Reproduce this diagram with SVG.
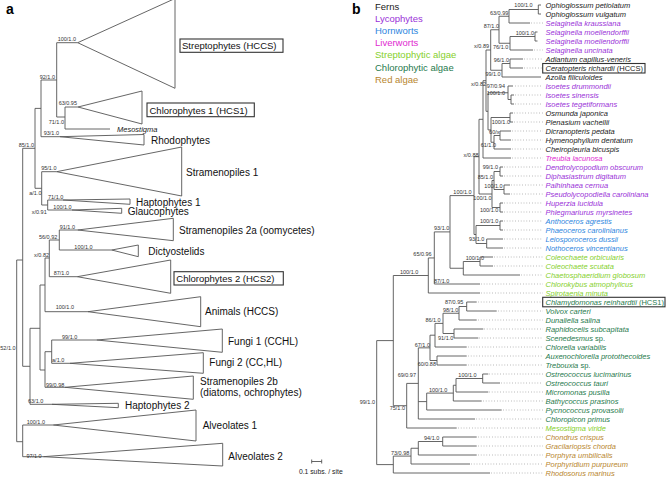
<svg xmlns="http://www.w3.org/2000/svg" width="667" height="478" viewBox="0 0 667 478">
<style>
.bg{fill:#fff}
.t{fill:none;stroke:#555;stroke-width:0.9}
.tri{fill:#fff;stroke:#555;stroke-width:0.9}
.dot{fill:none;stroke:#888;stroke-width:0.7;stroke-dasharray:0.8 2}
.bx{fill:none;stroke:#333;stroke-width:1.1}
.nl{font-family:"Liberation Sans",Arial,sans-serif;font-size:5.5px;fill:#333;text-anchor:end}
.cl{font-family:"Liberation Sans",Arial,sans-serif;font-size:10px;fill:#111}
.bl{font-family:"Liberation Sans",Arial,sans-serif;font-size:9.5px;fill:#111}
.pl{font-family:"Liberation Sans",Arial,sans-serif;font-size:14px;font-weight:bold;fill:#000}
.lg{font-family:"Liberation Sans",Arial,sans-serif;font-size:9.5px}
.sp{font-family:"Liberation Sans",Arial,sans-serif;font-size:7.5px;font-style:italic}
.n{font-style:normal}
.fe{fill:#1a1a1a}.ly{fill:#9a32d8}.ho{fill:#2e86de}.lv{fill:#e02bd0}.sa{fill:#86d02c}.ca{fill:#1f7a4d}.ra{fill:#b8862e}
</style>
<rect class="bg" x="0" y="0" width="667" height="478"/>
<text class="pl" x="6" y="14">a</text>
<text class="pl" x="352" y="14">b</text>

<g id="connectors-a">
<path class="t" d="M16.7 260V441.7M16.7 260H22.7M16.7 441.7H22.7
M22.7 148.3V366.3M22.7 148.3H35M22.7 366.3H30
M35 108.4V188.3M35 108.4H41M35 188.3H41.7
M41 80V136.7M41 80H56.7M41 136.7H60
M56.7 42.7V117M56.7 42.7H77.7M56.7 117H65
M65 107V129M65 107H78M65 129H110
M41.7 171.7V205M41.7 171.7H56.7M41.7 205H47.7
M47.7 200V210M47.7 200H63M47.7 210H72
M30 328.3V404.3M30 328.3H40M30 404.3H52
M40 285V370M40 285H45M40 370H45
M45 258V311.7M45 258H49.3M45 311.7H88
M49.3 240V276.7M49.3 240H59.3M49.3 276.7H77.3
M59.3 230V250M59.3 230H77.7M59.3 250H111.7
M45 351.7V387.3M45 351.7H51.7M45 387.3H65
M51.7 340V363.3M51.7 340H96.7M51.7 363.3H70
M22.7 425V456.7M22.7 425H53.3M22.7 456.7H43.3"/>
<path class="t" d="M311.7 461.5H321.7M311.7 459.5V463.5M321.7 459.5V463.5"/>
</g>

<g id="clade-streptophytes"><polygon class="tri" points="77.7,42.7 175,-1.5 175,88.3"/><rect class="bx" x="180" y="39" width="103" height="13.3"/><text class="bl" x="182" y="49.3">Streptophytes (HCCS)</text></g>
<g id="clade-chlorophytes1"><polygon class="tri" points="78,107 142,91 142,124"/><rect class="bx" x="147" y="103" width="107.3" height="13.7"/><text class="bl" x="149.5" y="113.5">Chlorophytes 1 (HCS1)</text></g>
<g id="leaf-mesostigma"><text class="sp fe" x="117" y="131.8">Mesostigma</text></g>
<g id="clade-rhodophytes"><polygon class="tri" points="60,136.7 144,134.5 144,145"/><text class="cl" x="151" y="143.7">Rhodophytes</text></g>
<g id="clade-stramenopiles1"><polygon class="tri" points="56.7,171.7 181.7,147 181.7,196"/><text class="cl" x="186" y="175.5">Stramenopiles 1</text></g>
<g id="clade-haptophytes1"><polygon class="tri" points="63,200 130,199 130,204.3"/><text class="cl" x="136" y="205.5">Haptophytes 1</text></g>
<g id="clade-glaucophytes"><polygon class="tri" points="72,210 121.7,208.3 121.7,213.3"/><text class="cl" x="127.7" y="215.2">Glaucophytes</text></g>
<g id="clade-stramenopiles2a"><polygon class="tri" points="77.7,230 173.3,218.3 173.3,240.7"/><text class="cl" x="179" y="234.3">Stramenopiles 2a (oomycetes)</text></g>
<g id="clade-dictyostelids"><polygon class="tri" points="111.7,250 138.3,245 138.3,256.7"/><text class="cl" x="148.3" y="254.5">Dictyostelids</text></g>
<g id="clade-chlorophytes2"><polygon class="tri" points="77.3,276.7 170.7,260 170.7,293.3"/><rect class="bx" x="174" y="271.7" width="109.3" height="13.3"/><text class="bl" x="176.3" y="281.8">Chlorophytes 2 (HCS2)</text></g>
<g id="clade-animals"><polygon class="tri" points="88,311.7 200.7,296.7 200.7,326.7"/><text class="cl" x="205" y="315.3">Animals (HCCS)</text></g>
<g id="clade-fungi1"><polygon class="tri" points="96.7,340 222.3,329 222.3,352.3"/><text class="cl" x="228" y="344.5">Fungi 1 (CCHL)</text></g>
<g id="clade-fungi2"><polygon class="tri" points="70,363.3 203.3,352.7 203.3,373.3"/><text class="cl" x="209.3" y="366.3">Fungi 2 (CC,HL)</text></g>
<g id="clade-stramenopiles2b"><polygon class="tri" points="65,387.3 193.3,376 193.3,399.3"/><text class="cl" x="200" y="384.5">Stramenopiles 2b</text><text class="cl" x="200" y="395.5">(diatoms, ochrophytes)</text></g>
<g id="clade-haptophytes2"><polygon class="tri" points="52,404.3 118.3,403.3 118.3,407.7"/><text class="cl" x="125" y="408.5">Haptophytes 2</text></g>
<g id="clade-alveolates1"><polygon class="tri" points="53.3,425 196,410 196,441"/><text class="cl" x="202.7" y="428.5">Alveolates 1</text></g>
<g id="clade-alveolates2"><polygon class="tri" points="43.3,456.7 222.7,443.3 222.7,466"/><text class="cl" x="228.3" y="460.3">Alveolates 2</text></g>
<text x="320.8" y="474" font-family="Liberation Sans, Arial, sans-serif" font-size="6.8" fill="#222" text-anchor="middle">0.1 subs. / site</text>

<g id="support-a">
<text class="nl" x="76" y="41.3">100/1.0</text>
<text class="nl" x="55" y="78.5">92/1.0</text>
<text class="nl" x="77" y="105.3">63/0.95</text>
<text class="nl" x="64" y="124">71/1.0</text>
<text class="nl" x="59" y="135.2">93/1.0</text>
<text class="nl" x="34" y="147">85/1.0</text>
<text class="nl" x="56.5" y="170">95/1.0</text>
<text class="nl" x="41.5" y="194.5">a/1.0</text>
<text class="nl" x="63.3" y="198.7">71/1.0</text>
<text class="nl" x="46.7" y="213.5">x/0.91</text>
<text class="nl" x="71.7" y="208.7">100/1.0</text>
<text class="nl" x="75" y="228.5">91/1.0</text>
<text class="nl" x="57.3" y="239">56/0.92</text>
<text class="nl" x="92.7" y="249">100/1.0</text>
<text class="nl" x="49" y="256.5">x/0.82</text>
<text class="nl" x="69" y="275">87/1.0</text>
<text class="nl" x="74" y="308.5">100/1.0</text>
<text class="nl" x="77.3" y="338.5">99/1.0</text>
<text class="nl" x="64.3" y="362">a/1.0</text>
<text class="nl" x="64.3" y="386.5">99/0.98</text>
<text class="nl" x="43.3" y="403">63/1.0</text>
<text class="nl" x="15.6" y="350.3">52/1.0</text>
<text class="nl" x="45" y="423.5">100/1.0</text>
<text class="nl" x="41.7" y="457.5">97/1.0</text>
</g>

<g id="legend-b">
<text class="lg fe" x="375" y="9.5">Ferns</text>
<text class="lg ly" x="375" y="21.7">Lycophytes</text>
<text class="lg ho" x="375" y="33.9">Hornworts</text>
<text class="lg lv" x="375" y="46.1">Liverworts</text>
<text class="lg sa" x="375" y="58.3">Streptophytic algae</text>
<text class="lg ca" x="375" y="70.5">Chlorophytic algae</text>
<text class="lg ra" x="375" y="82.7">Red algae</text>
</g>

<g id="connectors-b">
<path class="t" d="M538.3 5V14M538.3 5H541M538.3 14H541
M509 9.5V23M509 9.5H538.3M509 23H530
M535 32V41M535 32H537.5M535 41H537.5
M510 36.5V50M510 36.5H535M510 50H533
M499 16.25V43.25M499 16.25H509M499 43.25H510
M510 59V68M510 59H523M510 68H523
M502 63.5V77M502 63.5H510M502 77H541
M490.7 29.75V70.25M490.7 29.75H499M490.7 70.25H502
M511 95V104M511 95H514M511 104H514
M508 86V99.5M508 86H513M508 99.5H511
M510 113V122M510 113H513M510 122H513
M500 131V140M500 131H511M500 140H511
M494 135.5V149M494 135.5H500M494 149H511
M491 117.5V142.25M491 117.5H510M491 142.25H494
M488 92.75V129.9M488 92.75H508M488 129.9H491
M486 50V111.3M486 50H490.7M486 111.3H488
M483 80.7V158M483 80.7H486M483 158H511
M500 167V176M500 167H503M500 176H503
M504 185V194M504 185H510M504 194H510
M494 171.5V189.5M494 171.5H500M494 189.5H504
M500 203V212M500 203H503M500 212H503
M492 180.5V207.5M492 180.5H494M492 207.5H500
M479 119.3V194M479 119.3H483M479 194H492
M500 221V230M500 221H503M500 230H503
M486.7 239V248M486.7 239H503M486.7 248H503
M476 225.5V243.5M476 225.5H500M476 243.5H486.7
M474 156.7V234.5M474 156.7H479M474 234.5H476
M480 257V266M480 257H493M480 266H493
M463.3 261.5V275M463.3 261.5H480M463.3 275H520
M450 195.6V268.25M450 195.6H474M450 268.25H463.3
M434.3 231.9V284M434.3 231.9H450M434.3 284H480
M428.3 257.95V293M428.3 257.95H434.3M428.3 293H480
M466.7 302V311M466.7 302H476.7M466.7 311H496.7
M459 306.5V320M459 306.5H466.7M459 320H476.7
M454 329V338M454 329H483.3M454 338H478.3
M443 313.25V333.5M443 313.25H459M443 333.5H454
M435 323.4V347M435 323.4H443M435 347H466.7
M437 356V365M437 356H466.7M437 365H466.7
M430 335.2V360.5M430 335.2H435M430 360.5H437
M482.7 374V383M482.7 374H488.3M482.7 383H500
M456 378.5V392M456 378.5H482.7M456 392H488.3
M453.3 385.25V401M453.3 385.25H456M453.3 401H481.7
M426.7 393.1V410M426.7 393.1H453.3M426.7 410H501.7
M418.3 347.85V419M418.3 347.85H430M418.3 401.6H426.7M418.3 419H475
M406.7 383.4V428M406.7 383.4H418.3M406.7 428H456.7
M393.3 275.5V405.7M393.3 275.5H428.3M393.3 405.7H406.7
M442.7 437V446M442.7 437H476.7M442.7 446H476.7
M418.3 441.5V455M418.3 441.5H442.7M418.3 455H476.7
M411 448.25V464M411 448.25H418.3M411 464H470
M393.3 456.1V473M393.3 456.1H411M393.3 473H490
M376.7 340.6V464.6M376.7 340.6H393.3M376.7 464.6H393.3"/>
<path class="dot" d="M531 23H543M534 50H543M524 59H543M524 68H543M515 86H543M515 95H543M515 104H543M514 113H543M514 122H543M512 131H543M512 140H543M512 149H543M512 158H543M504 167H543M504 176H543M511 185H543M511 194H543M504 203H543M504 212H543M504 221H543M504 230H543M504 239H543M504 248H543M494 257H543M494 266H543M521 275H543M481 284H543M481 293H543M478 302H543M498 311H543M478 320H543M484 329H543M479 338H543M468 347H543M468 356H543M468 365H543M489 374H543M501 383H543M489 392H543M483 401H543M503 410H543M476 419H543M458 428H543M478 437H543M478 446H543M478 455H543M471 464H543M491 473H543"/>
</g>

<g id="support-b">
<text class="nl" x="532.7" y="6.5">100/1.0</text>
<text class="nl" x="508.3" y="15.3">63/0.99</text>
<text class="nl" x="499" y="28">87/1.0</text>
<text class="nl" x="534" y="34.7">100/1.0</text>
<text class="nl" x="489" y="48">x/0.89</text>
<text class="nl" x="508.3" y="48.7">76/1.0</text>
<text class="nl" x="509" y="62">96/1.0</text>
<text class="nl" x="500.7" y="76">99/1.0</text>
<text class="nl" x="486" y="86">x/0.82</text>
<text class="nl" x="505" y="88">97/0.94</text>
<text class="nl" x="505" y="95.3">100/1.0</text>
<text class="nl" x="510" y="123.7">100/1.0</text>
<text class="nl" x="499.5" y="133.7">60/x</text>
<text class="nl" x="496" y="147">61/1.0</text>
<text class="nl" x="478.5" y="157">x/0.88</text>
<text class="nl" x="498" y="169.3">99/1.0</text>
<text class="nl" x="493" y="178.7">85/1.0</text>
<text class="nl" x="502.7" y="187.7">100/1.0</text>
<text class="nl" x="471.7" y="193.7">100/1.0</text>
<text class="nl" x="491.7" y="199.7">100/1.0</text>
<text class="nl" x="498.3" y="212">100/1.0</text>
<text class="nl" x="498.3" y="223">100/1.0</text>
<text class="nl" x="449.3" y="229.5">93/1.0</text>
<text class="nl" x="484.3" y="240.5">93/1.0</text>
<text class="nl" x="431.7" y="255.5">65/0.96</text>
<text class="nl" x="484" y="259.5">100/1.0</text>
<text class="nl" x="418.3" y="274">100/1.0</text>
<text class="nl" x="449.3" y="283">87/1.0</text>
<text class="nl" x="463.3" y="304">87/0.95</text>
<text class="nl" x="458.3" y="312">98/1.0</text>
<text class="nl" x="440.7" y="322">86/1.0</text>
<text class="nl" x="453.3" y="339.5">91/1.0</text>
<text class="nl" x="430" y="347">67/1.0</text>
<text class="nl" x="436" y="366">60/0.88</text>
<text class="nl" x="416" y="377">69/0.97</text>
<text class="nl" x="476.7" y="377">100/1.0</text>
<text class="nl" x="447.3" y="392">100/1.0</text>
<text class="nl" x="405" y="409.5">75/1.0</text>
<text class="nl" x="375" y="404">99/1.0</text>
<text class="nl" x="439.3" y="440">94/1.0</text>
<text class="nl" x="409.3" y="455">73/0.98</text>
</g>

<g id="leaves-b">
<text class="sp fe" x="545.5" y="7.7">Ophioglossum petiolatum</text>
<text class="sp fe" x="545.5" y="16.7">Ophioglossum vulgatum</text>
<text class="sp ly" x="545.5" y="25.7">Selaginella kraussiana</text>
<text class="sp ly" x="545.5" y="34.7">Selaginella moellendorffii</text>
<text class="sp ly" x="545.5" y="43.7">Selaginella moellendorffii</text>
<text class="sp ly" x="545.5" y="52.7">Selaginella uncinata</text>
<text class="sp fe" x="545.5" y="61.7">Adiantum capillus-veneris</text>
<g id="leaf-ceratopteris"><rect class="bx" x="542.7" y="63.5" width="102.3" height="9.5"/><text class="sp fe" x="545.5" y="70.7">Ceratopteris richardii<tspan class="n"> (HCCS)</tspan></text></g>
<text class="sp fe" x="545.5" y="79.7">Azolla filiculoides</text>
<text class="sp ly" x="545.5" y="88.7">Isoetes drummondii</text>
<text class="sp ly" x="545.5" y="97.7">Isoetes sinensis</text>
<text class="sp ly" x="545.5" y="106.7">Isoetes tegetiformans</text>
<text class="sp fe" x="545.5" y="115.7">Osmunda japonica</text>
<text class="sp fe" x="545.5" y="124.7">Plenasium vachellii</text>
<text class="sp fe" x="545.5" y="133.7">Dicranopteris pedata</text>
<text class="sp fe" x="545.5" y="142.7">Hymenophyllum dentatum</text>
<text class="sp fe" x="545.5" y="151.7">Cheiropleuria bicuspis</text>
<text class="sp lv" x="545.5" y="160.7">Treubia lacunosa</text>
<text class="sp ly" x="545.5" y="169.7">Dendrolycopodium obscurum</text>
<text class="sp ly" x="545.5" y="178.7">Diphasiastrum digitatum</text>
<text class="sp ly" x="545.5" y="187.7">Palhinhaea cernua</text>
<text class="sp ly" x="545.5" y="196.7">Pseudolycopodiella caroliniana</text>
<text class="sp ly" x="545.5" y="205.7">Huperzia lucidula</text>
<text class="sp ly" x="545.5" y="214.7">Phlegmariurus myrsinetes</text>
<text class="sp ho" x="545.5" y="223.7">Anthoceros agrestis</text>
<text class="sp ho" x="545.5" y="232.7">Phaeoceros carolinianus</text>
<text class="sp ho" x="545.5" y="241.7">Leiosporoceros dussii</text>
<text class="sp ho" x="545.5" y="250.7">Nothoceros vincentianus</text>
<text class="sp sa" x="545.5" y="259.7">Coleochaete orbicularis</text>
<text class="sp sa" x="545.5" y="268.7">Coleochaete scutata</text>
<text class="sp sa" x="545.5" y="277.7">Chaetosphaeridium globosum</text>
<text class="sp sa" x="545.5" y="286.7">Chlorokybus atmophylicus</text>
<text class="sp sa" x="545.5" y="295.7">Spirotaenia minuta</text>
<g id="leaf-chlamydomonas"><rect class="bx" x="542.7" y="297.3" width="122.3" height="9.5"/><text class="sp ca" x="545.5" y="304.7">Chlamydomonas reinhardtii<tspan class="n"> (HCS1)</tspan></text></g>
<text class="sp ca" x="545.5" y="313.7">Volvox carteri</text>
<text class="sp ca" x="545.5" y="322.7">Dunaliella salina</text>
<text class="sp ca" x="545.5" y="331.7">Raphidocelis subcapitata</text>
<text class="sp ca" x="545.5" y="340.7">Scenedesmus<tspan class="n"> sp.</tspan></text>
<text class="sp ca" x="545.5" y="349.7">Chlorella variabilis</text>
<text class="sp ca" x="545.5" y="358.7">Auxenochlorella protothecoides</text>
<text class="sp ca" x="545.5" y="367.7">Trebouxia<tspan class="n"> sp.</tspan></text>
<text class="sp ca" x="545.5" y="376.7">Ostreococcus lucimarinus</text>
<text class="sp ca" x="545.5" y="385.7">Ostreococcus tauri</text>
<text class="sp ca" x="545.5" y="394.7">Micromonas pusilla</text>
<text class="sp ca" x="545.5" y="403.7">Bathycoccus prasinos</text>
<text class="sp ca" x="545.5" y="412.7">Pycnococcus provasolii</text>
<text class="sp ca" x="545.5" y="421.7">Chloropicon primus</text>
<text class="sp sa" x="545.5" y="430.7">Mesostigma viride</text>
<text class="sp ra" x="545.5" y="439.7">Chondrus crispus</text>
<text class="sp ra" x="545.5" y="448.7">Gracilariopsis chorda</text>
<text class="sp ra" x="545.5" y="457.7">Porphyra umbilicalis</text>
<text class="sp ra" x="545.5" y="466.7">Porphyridium purpureum</text>
<text class="sp ra" x="545.5" y="475.7">Rhodosorus marinus</text>
</g>
</svg>
